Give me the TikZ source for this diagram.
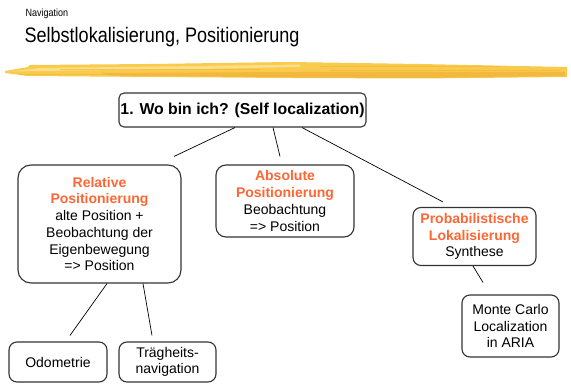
\documentclass[tikz,border=0pt]{standalone}
\usepackage{fontspec}
\setmainfont{Liberation Sans}
\newfontfamily\headfont[FakeStretch=0.86]{Liberation Sans}
\usetikzlibrary{decorations.pathmorphing}

\definecolor{boxline}{HTML}{333333}
\definecolor{hilite}{HTML}{FF6633}
\definecolor{brushyellow}{HTML}{F8CB4C}
\definecolor{brushorange}{HTML}{F2B23A}
\definecolor{brushlight}{HTML}{FCE396}

\begin{document}
\begin{tikzpicture}[x=1pt,y=-1pt,
    box/.style={draw=boxline, line width=1.1pt, rounded corners=8pt,
      inner sep=0pt, align=center, font=\fontsize{14}{16.7}\selectfont},
    link/.style={draw=black, line width=0.7pt},
    hl/.style={font=\bfseries, text=hilite}]
  \useasboundingbox (0,0) rectangle (571,390);

  % Kopf
  \node[anchor=west, font=\headfont\fontsize{10.5}{12}\selectfont] (nav) at (22,14) {Navigation};
  \node[anchor=west, font=\headfont\fontsize{21}{24}\selectfont] (title) at (21,37) {Selbstlokalisierung, Positionierung};

  % Pinselstrich
  \pgfmathsetseed{7}
  \begin{scope}[decorate, decoration={random steps, segment length=3pt, amplitude=0.8pt}]
    \fill[brushyellow] (5,71) -- (28,67) -- (30,65) -- (150,64) -- (290,62) -- (420,64)
      -- (567,67) -- (567,77) -- (420,78.5) -- (290,78) -- (150,77) -- (28,76) -- (5,73) -- cycle;
    \fill[brushlight, opacity=0.8] (10,71.5) -- (40,68) -- (200,66) -- (300,64.5) -- (300,67)
      -- (200,69) -- (40,71) -- cycle;
    \fill[brushorange, opacity=0.7] (100,73) -- (290,72) -- (450,72) -- (565,72)
      -- (565,76) -- (420,78) -- (290,77.5) -- (110,75.5) -- cycle;
  \end{scope}
  \foreach \y/\a/\b in {66/320/500, 69/60/260, 70.5/330/560, 74/20/140, 75/200/380}
    \draw[brushorange, line width=0.8pt, opacity=0.6] (\a,\y) -- (\b,\y);

  % Boxen
  \node[box, minimum width=247pt, minimum height=34pt, rounded corners=5pt,
    font=\bfseries\fontsize{15.8}{18}\selectfont] (wo) at (242.5,110) {1. Wo bin ich? (Self localization)};
  \node[box, minimum width=163pt, minimum height=118pt, rounded corners=13pt] (rel) at (99.5,224)
    {\textbf{\color{hilite}Relative}\\ \textbf{\color{hilite}Positionierung}\\ alte Position +\\ Beobachtung der\\ Eigenbewegung\\ => Position};
  \node[box, minimum width=138pt, minimum height=72pt, rounded corners=10pt] (abs) at (285,201)
    {\textbf{\color{hilite}Absolute}\\ \textbf{\color{hilite}Positionierung}\\ Beobachtung\\ => Position};
  \node[box, minimum width=123pt, minimum height=58pt] (prob) at (474.5,236.5)
    {\textbf{\color{hilite}Probabilistische}\\ \textbf{\color{hilite}Lokalisierung}\\ Synthese};
  \node[box, minimum width=97pt, minimum height=62pt] (mc) at (510.5,326)
    {Monte Carlo\\ Localization\\ in ARIA};
  \node[box, minimum width=98pt, minimum height=40pt] (odo) at (58,362) {Odometrie};
  \node[box, minimum width=97pt, minimum height=40pt] (trag) at (167.5,362)
    {Trägheits-\\ navigation};

  % Verbindungen
  \draw[link] ([xshift=-7.5pt]wo.south) -- ([xshift=74.5pt, yshift=8pt]rel.north);
  \draw[link] ([xshift=30.5pt]wo.south) -- ([xshift=-5pt, yshift=8pt]abs.north);
  \draw[link] ([xshift=59.5pt]wo.south) -- ([xshift=-31.5pt, yshift=5pt]prob.north);
  \draw[link] ([xshift=7.5pt]rel.south) -- ([xshift=12pt, yshift=6pt]odo.north);
  \draw[link] ([xshift=43.5pt]rel.south) -- ([xshift=-15.5pt, yshift=6pt]trag.north);
  \draw[link] ([xshift=-1.5pt]prob.south) -- ([xshift=-27.5pt, yshift=12pt]mc.north);
\end{tikzpicture}
\end{document}
